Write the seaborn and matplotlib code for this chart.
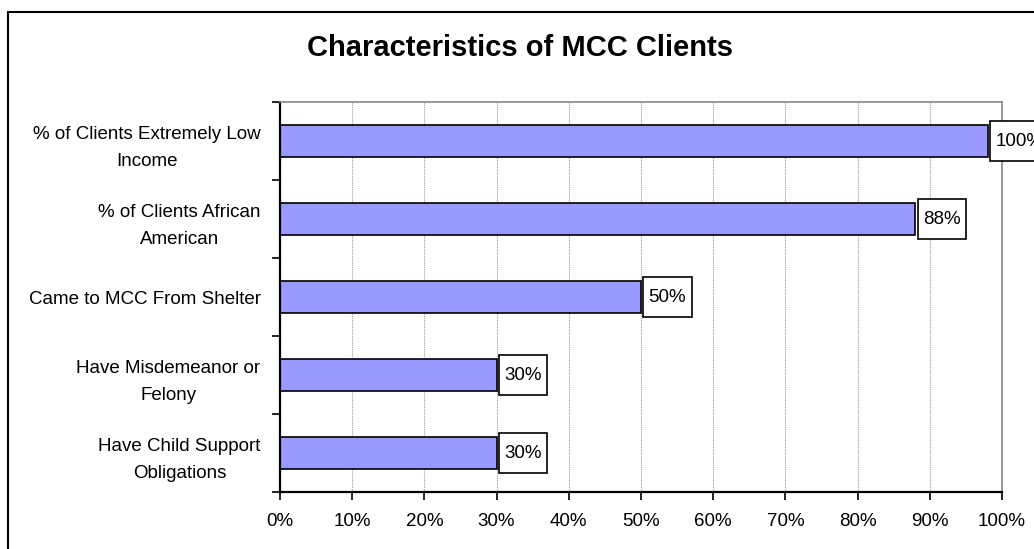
import matplotlib
matplotlib.use("Agg")
import matplotlib.pyplot as plt
import seaborn as sns
import pandas as pd
from matplotlib.patches import Rectangle
from matplotlib.ticker import FixedLocator, PercentFormatter

# chart data
categories = [
    "% of Clients Extremely Low\nIncome",
    "% of Clients African\nAmerican",
    "Came to MCC From Shelter",
    "Have Misdemeanor or\nFelony",
    "Have Child Support\nObligations",
]
shares = [0.98, 0.88, 0.50, 0.30, 0.30]
share_labels = ["100%", "88%", "50%", "30%", "30%"]

df = pd.DataFrame({"Category": categories, "Share": shares})

sns.set_style("white")
plt.rcParams["font.family"] = ["Liberation Sans", "DejaVu Sans"]
plt.rcParams["text.color"] = "black"
plt.rcParams["xtick.color"] = "black"
plt.rcParams["ytick.color"] = "black"

fig = plt.figure(figsize=(10.34, 5.49), dpi=100)
ax = fig.add_axes([0.2708, 0.1038, 0.6982, 0.7104])

sns.barplot(data=df, x="Share", y="Category", orient="h", color="#9999FF",
            saturation=1, edgecolor="black", linewidth=1.2, width=0.41, ax=ax)

ax.set_xlim(0, 1)
ax.set_ylim(4.5, -0.5)
ax.xaxis.set_major_locator(FixedLocator([i / 10 for i in range(11)]))
ax.xaxis.set_major_formatter(PercentFormatter(1.0, decimals=0))
ax.grid(axis="x", color="#999999", linewidth=0.8, linestyle=(0, (1, 1)))
ax.set_axisbelow(True)
ax.set_xlabel("")
ax.set_ylabel("")

# ticks between categories, labels at centers (Excel look)
ax.set_yticks(range(len(categories)))
ax.set_yticklabels(categories, multialignment="center", linespacing=1.75)
ax.set_yticks([i - 0.5 for i in range(len(categories) + 1)], minor=True)
ax.tick_params(axis="y", which="major", length=0, pad=14, labelsize=13.5)
ax.tick_params(axis="y", which="minor", length=6, width=1.2, color="black", left=True)
ax.tick_params(axis="x", which="major", length=6, width=1.2, color="black",
               bottom=True, labelsize=13.5, pad=9)

for side in ["top", "right"]:
    ax.spines[side].set_color("#888888")
    ax.spines[side].set_linewidth(1.2)
for side in ["left", "bottom"]:
    ax.spines[side].set_color("black")
    ax.spines[side].set_linewidth(1.6)

# value boxes right of bars (taller than wide padding, like Excel)
for i, (v, lab) in enumerate(zip(shares, share_labels)):
    ax.annotate(lab, xy=(v, i), xytext=(5.5, 0), textcoords="offset points",
                ha="left", va="center", fontsize=13.5, clip_on=False,
                bbox=dict(boxstyle="square,pad=0.29", fc="white", ec="black",
                          lw=1.2, mutation_aspect=2.1))

fig.text(0.503, 0.9126, "Characteristics of MCC Clients", ha="center", va="center",
         fontsize=21, fontweight="bold")

# chart area frame
fig.patches.append(Rectangle((8 / 1034, -0.05), 1.2, 1 - 12 / 549 + 0.05,
                             transform=fig.transFigure, fill=False,
                             edgecolor="black", linewidth=1.5))

fig.savefig("out.png", dpi=100)
